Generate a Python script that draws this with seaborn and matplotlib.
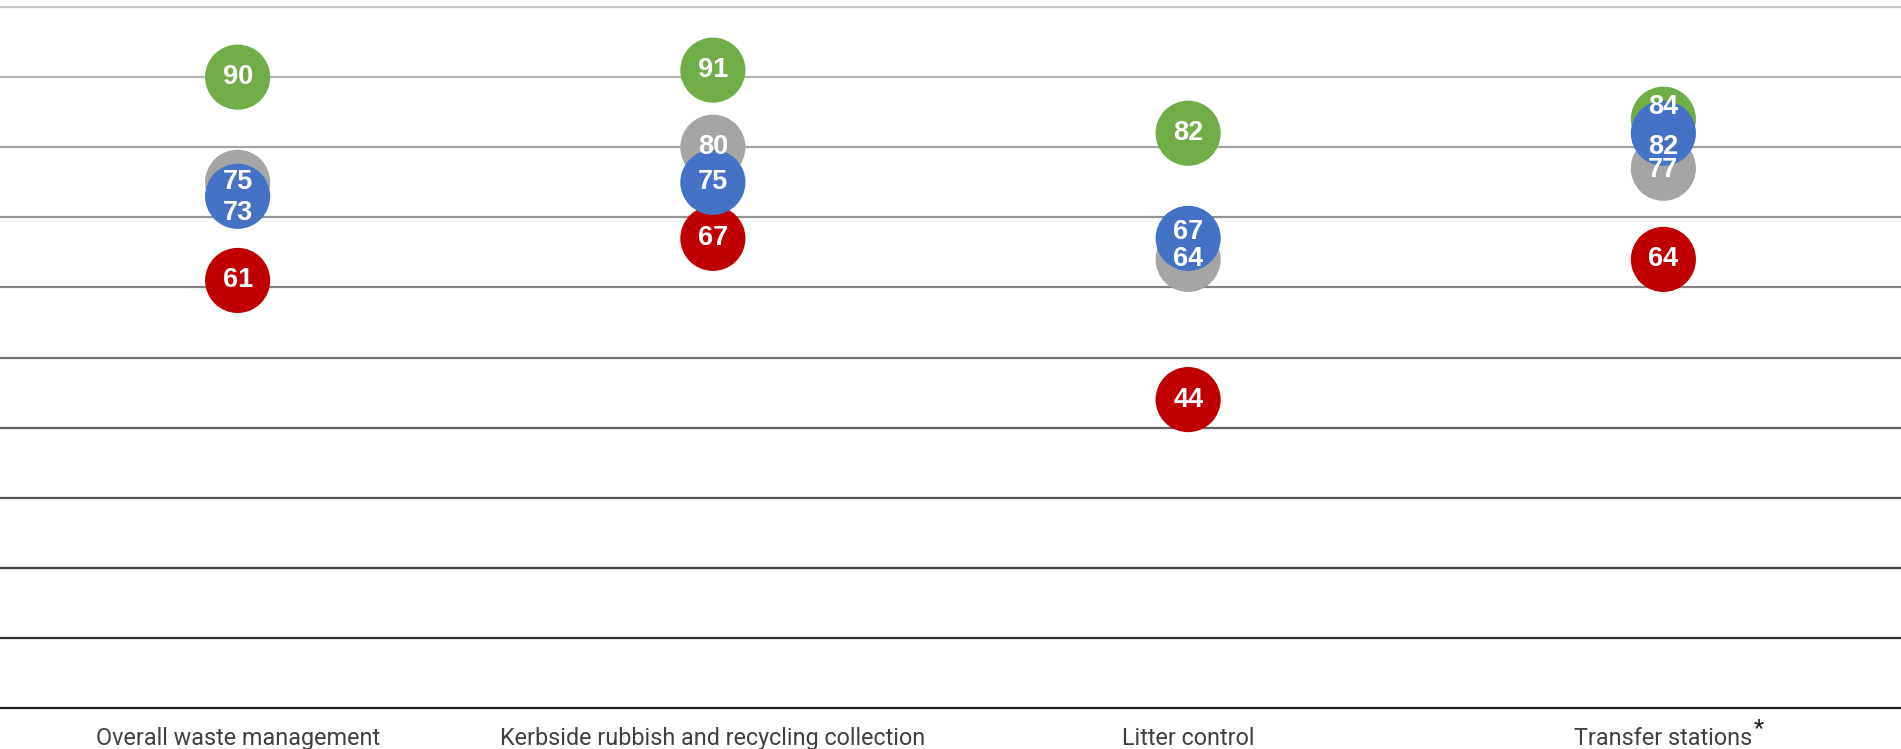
import pandas as pd
import numpy as np
import matplotlib.pyplot as plt
import matplotlib.colors as mcolors
import seaborn as sns

# values
categories = ["Overall waste management",
              "Kerbside rubbish and recycling collection",
              "Litter control",
              "Transfer stations"]
green_vals = [90, 91, 82, 84]
grey_vals = [75, 80, 64, 77]
red_vals = [61, 67, 44, 64]
blue_vals = [73, 75, 67, 82]

series_names = ["Green", "Grey", "Red", "Blue"]
palette = {"Green": "#70AD47", "Grey": "#A5A5A5", "Red": "#C00000", "Blue": "#4472C4"}

df = pd.DataFrame({
    "Category": categories * 4,
    "Series": np.repeat(series_names, len(categories)),
    "Score": green_vals + grey_vals + red_vals + blue_vals,
})

# small label nudges (points) where circles overlap, like the original
label_nudge = {
    ("Blue", 0): -12,
    ("Green", 3): 8.5,
    ("Blue", 3): -10,
    ("Grey", 3): -1.5,
    ("Blue", 2): 4.3,
}

sns.set_style("white")
plt.rcParams["font.family"] = ["Roboto", "DejaVu Sans"]

fig = plt.figure(figsize=(19.01, 7.49), dpi=100)
ax = fig.add_axes([0.0, 0.0547, 1.0, 0.9359])

# gridlines fading from light grey (top) to near black (bottom)
light = np.array(mcolors.to_rgb("#C4C4C4"))
dark = np.array(mcolors.to_rgb("#222222"))
for y in range(0, 101, 10):
    t = y / 100
    ax.axhline(y, color=dark + (light - dark) * t, lw=1.6, zorder=0, clip_on=False)

sns.scatterplot(data=df, x="Category", y="Score", hue="Series",
                palette=palette, s=2200, linewidth=0, legend=False,
                ax=ax, zorder=3, clip_on=False)

for name, vals in zip(series_names, [green_vals, grey_vals, red_vals, blue_vals]):
    for i, v in enumerate(vals):
        ax.annotate(str(v), (i, v), xytext=(0, label_nudge.get((name, i), 0)),
                    textcoords="offset points", ha="center", va="center",
                    color="white", fontsize=19.5, fontweight="bold",
                    family="Liberation Sans", zorder=5)

ax.set_xlim(-0.5, 3.5)
ax.set_ylim(0, 100)
ax.set_yticks([])
ax.set_xlabel("")
ax.set_ylabel("")
ax.tick_params(axis="x", length=0, pad=14, labelsize=16.8, labelcolor="#404040")
sns.despine(ax=ax, left=True, bottom=True, top=True, right=True)

# raised asterisk after the last category label
fig.canvas.draw()
lab = ax.get_xticklabels()[-1]
bb = lab.get_window_extent()
fig.text(bb.x1 / fig.bbox.width + 0.0005, bb.y1 / fig.bbox.height - 0.002, "*",
         fontsize=17, color="#202020", ha="left", va="center")

fig.savefig("out.png", dpi=100)
